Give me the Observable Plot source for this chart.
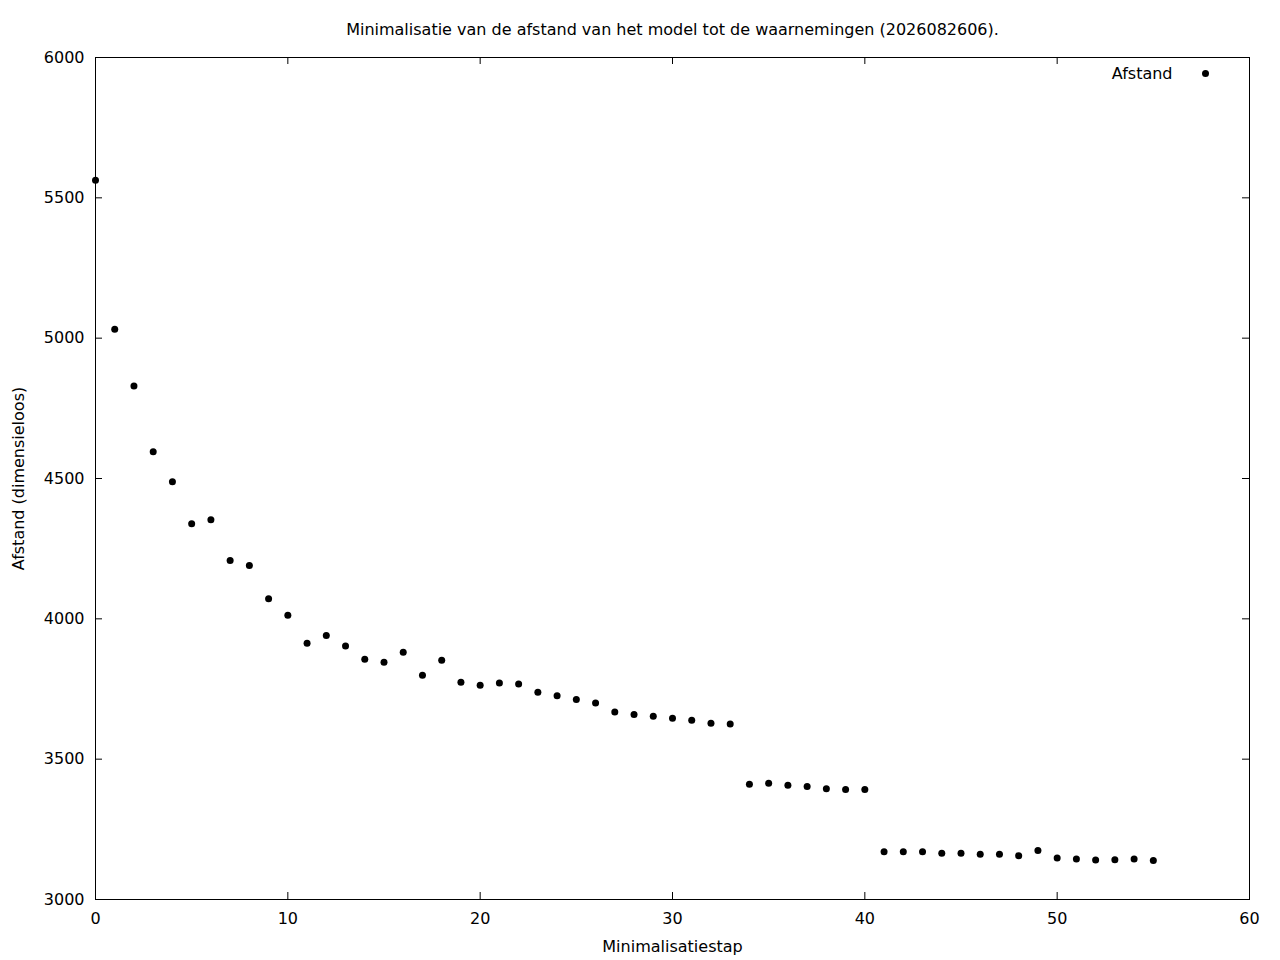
<!DOCTYPE html>
<html>
<head>
<meta charset="utf-8">
<script src="https://cdn.jsdelivr.net/npm/d3@7"></script>
<script src="https://cdn.jsdelivr.net/npm/@observablehq/plot@0.6"></script>
<style>
  html, body { margin: 0; padding: 0; background: #fff; }
  #chart svg { display: block; }
</style>
</head>
<body>
<div id="chart"></div>
<script>
const titleText = "Minimalisatie van de afstand van het model tot de waarnemingen (2026082606).";
const xLabel = "Minimalisatiestap";
const yLabel = "Afstand (dimensieloos)";
const legendLabel = "Afstand";

const steps = [0,1,2,3,4,5,6,7,8,9,10,11,12,13,14,15,16,17,18,19,20,21,22,23,24,25,26,27,
  28,29,30,31,32,33,34,35,36,37,38,39,40,41,42,43,44,45,46,47,48,49,50,51,52,53,54,55];
const afstand = [5563,5032,4830,4595,4488,4339,4353,4208,4190,4072,4013,3913,3941,3903,3856,3845,
  3881,3799,3852,3774,3763,3771,3768,3738,3726,3713,3700,3668,3659,3653,3646,3639,3628,3625,
  3411,3414,3407,3403,3395,3392,3392,3170,3170,3170,3165,3165,3161,3161,3156,3175,3148,3144,
  3141,3142,3144,3139];

const xTicks = [0,10,20,30,40,50,60];
const yTicks = [3000,3500,4000,4500,5000,5500,6000];
const xDomain = [0,60];
const yDomain = [3000,6000];

const data = steps.map((s, i) => ({step: s, value: afstand[i]}));

const W = 1280, H = 960;
const mL = 95, mR = 31, mT = 57, mB = 61;
const innerH = H - mT - mB;
const innerW = W - mL - mR;
const tickLen = 7;

const chart = Plot.plot({
  width: W,
  height: H,
  marginLeft: mL,
  marginRight: mR,
  marginTop: mT,
  marginBottom: mB,
  style: {fontFamily: "DejaVu Sans", fontSize: "16px", background: "#fff", color: "#000"},
  x: {domain: xDomain, axis: null},
  y: {domain: yDomain, axis: null},
  marks: [
    Plot.frame({stroke: "#000", strokeWidth: 1}),
    // inward ticks: bottom, top, left, right
    Plot.tickX(xTicks, {x: d => d, insetTop: innerH - tickLen, stroke: "#000"}),
    Plot.tickX(xTicks, {x: d => d, insetBottom: innerH - tickLen, stroke: "#000"}),
    Plot.tickY(yTicks, {y: d => d, insetRight: innerW - tickLen, stroke: "#000"}),
    Plot.tickY(yTicks, {y: d => d, insetLeft: innerW - tickLen, stroke: "#000"}),
    // tick labels
    Plot.text(xTicks, {x: d => d, frameAnchor: "bottom", lineAnchor: "middle", dy: 19, text: d => String(d), fill: "#000"}),
    Plot.text(yTicks, {y: d => d, frameAnchor: "left", lineAnchor: "middle", dx: -11, textAnchor: "end", text: d => String(d), fill: "#000"}),
    // titles
    Plot.text([titleText], {frameAnchor: "top", lineAnchor: "middle", dy: -28, text: d => d, fill: "#000"}),
    Plot.text([xLabel], {frameAnchor: "bottom", lineAnchor: "middle", dy: 47, text: d => d, fill: "#000"}),
    Plot.text([yLabel], {frameAnchor: "left", lineAnchor: "middle", textAnchor: "middle", dx: -77, rotate: -90, text: d => d, fill: "#000"}),
    // legend
    Plot.text([legendLabel], {frameAnchor: "top-right", lineAnchor: "middle", dx: -77, dy: 16, textAnchor: "end", text: d => d, fill: "#000"}),
    Plot.dot([legendLabel], {frameAnchor: "top-right", dx: -44, dy: 16, r: 3.5, fill: "#000", stroke: "none"}),
    // data
    Plot.dot(data, {x: "step", y: "value", r: 3.5, fill: "#000", stroke: "none"})
  ]
});
document.getElementById("chart").appendChild(chart);
</script>
</body>
</html>
